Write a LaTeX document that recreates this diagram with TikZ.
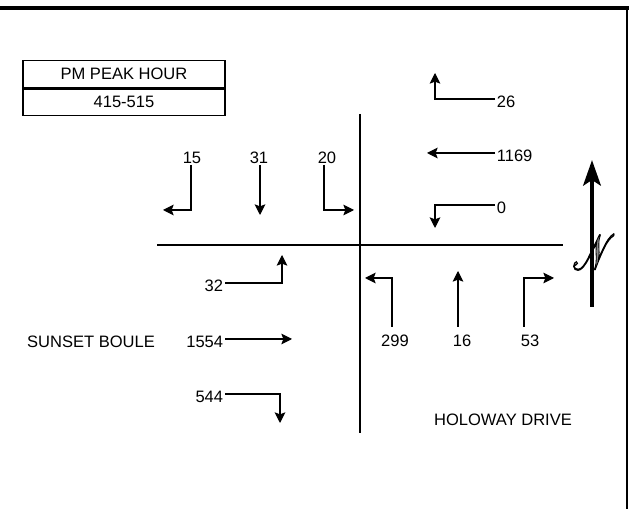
\documentclass[tikz,border=0pt]{standalone}
\usepackage{fontspec}
\setmainfont{Liberation Sans}
\usetikzlibrary{arrows.meta,positioning}
\font\nsignfont=rsfs10 at 37pt

\begin{document}
\begin{tikzpicture}[
x=0.75pt,y=-0.75pt,
tag/.style={font=\fontsize{12.4}{14}\selectfont,inner sep=1.2pt,text height=13.5pt,text depth=0pt},
street/.style={font=\fontsize{12.4}{14}\selectfont,inner sep=0pt},
hdr/.style={draw,line width=1.1pt,minimum width=151.5pt,minimum height=20pt,inner sep=0pt,font=\fontsize{12.4}{14}\selectfont},
road/.style={line width=1.6pt},
arrow/.style={-{Stealth[length=8pt,width=8pt,inset=1.5pt]},line width=0.8pt},
north/.style={-{Stealth[length=19pt,width=13pt,inset=4pt]},line width=3.6pt} ]

\useasboundingbox (0,0) rectangle (629,509);

% frame
\draw[line width=3.4pt] (0,8) -- (629,8);
\draw[line width=1pt] (627,8) -- (627,509);

% peak hour box
\node[hdr](peak) at (124,74) {PM PEAK HOUR};
\node[hdr,below=0pt of peak](hour) {415-515};

% roads
\coordinate (ewW) at (157,245);
\coordinate (ewE) at (563,245);
\coordinate (nsN) at (360,114);
\coordinate (nsS) at (360,433);
\draw[road] (ewW) -- (ewE);
\draw[road] (nsN) -- (nsS);

\node[street](sunset) at (91,342) {SUNSET BOULE};
\node[street](holoway) at (503,420) {HOLOWAY DRIVE};

% southbound
\node[tag,anchor=south](l15) at (192,165) {15};
\node[tag,anchor=south](l31) at (259,165) {31};
\node[tag,anchor=south](l20) at (327,165) {20};
\coordinate (c15) at (191,210);
\coordinate (t15) at (163,210);
\coordinate (t31) at (260,215);
\coordinate (c20) at (324,210);
\coordinate (t20) at (354,210);
\draw[arrow] (l15.south -| c15) -- (c15) -- (t15);
\draw[arrow] (l31.south -| t31) -- (t31);
\draw[arrow] (l20.south -| c20) -- (c20) -- (t20);

% westbound
\node[tag,anchor=west](l26) at (495,99) {26};
\node[tag,anchor=west](l1169) at (495,153) {1169};
\node[tag,anchor=west](l0) at (495,205) {0};
\coordinate (c26) at (435,99);
\coordinate (t26) at (435,73);
\coordinate (t1169) at (427,153);
\coordinate (c0) at (435,205);
\coordinate (t0) at (435,228);
\draw[arrow] (l26.west) -- (c26) -- (t26);
\draw[arrow] (l1169.west) -- (t1169);
\draw[arrow] (l0.west) -- (c0) -- (t0);

% eastbound
\node[tag,anchor=east](l32) at (225,283) {32};
\node[tag,anchor=east](l1554) at (225,339) {1554};
\node[tag,anchor=east](l544) at (225,394) {544};
\coordinate (c32) at (282,283);
\coordinate (t32) at (282,255);
\coordinate (t1554) at (292,339);
\coordinate (c544) at (280,394);
\coordinate (t544) at (280,423);
\draw[arrow] (l32.east) -- (c32) -- (t32);
\draw[arrow] (l1554.east) -- (t1554);
\draw[arrow] (l544.east) -- (c544) -- (t544);

% northbound
\node[tag,anchor=north](l299) at (395,327) {299};
\node[tag,anchor=north](l16) at (462,327) {16};
\node[tag,anchor=north](l53) at (530,327) {53};
\coordinate (c299) at (392,278);
\coordinate (t299) at (365,278);
\coordinate (t16) at (458,271);
\coordinate (c53) at (524,278);
\coordinate (t53) at (554,278);
\draw[arrow] (l299.north -| c299) -- (c299) -- (t299);
\draw[arrow] (l16.north -| t16) -- (t16);
\draw[arrow] (l53.north -| c53) -- (c53) -- (t53);

% north sign
\coordinate (nfoot) at (592,307);
\coordinate (ntip) at (592,160);
\draw[north] (nfoot) -- (ntip);
\node[font=\nsignfont,inner sep=0pt,text=black!45](nsign) at (588,252) {\special{pdf:literal direct 2 Tr 0.9 w 0 0 0 RG}\scalebox{0.7}[1]{N}\special{pdf:literal direct 0 Tr}};

\end{tikzpicture}
\end{document}
